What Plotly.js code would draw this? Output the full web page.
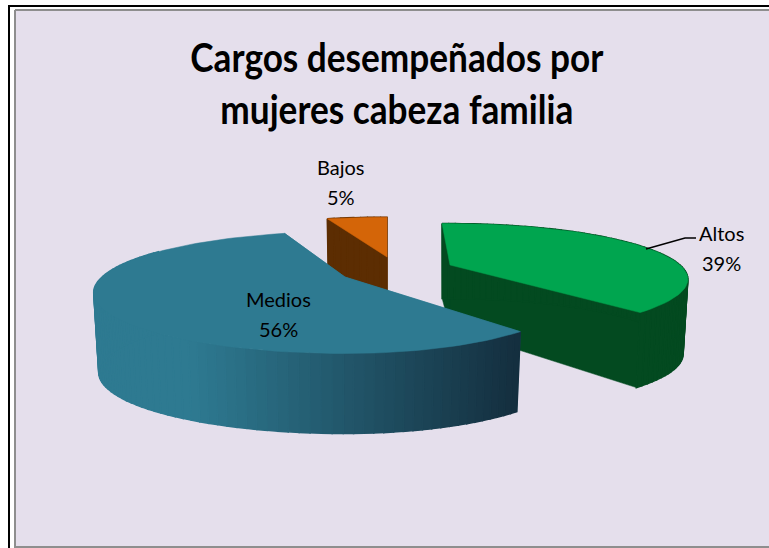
<!DOCTYPE html>
<html>
<head>
<meta charset="utf-8">
<script src="https://cdn.plot.ly/plotly-3.0.1.min.js"></script>
<style>
  html, body { margin: 0; padding: 0; background: #fff; }
  #chart { width: 769px; height: 548px; }
</style>
</head>
<body>
<div id="chart"></div>
<script>
// Values
const categorias = ['Altos', 'Medios', 'Bajos'];
const valores = [39, 56, 5];
const titulo = 'Cargos desempeñados por<br>mujeres cabeza familia';

// Colours per slice
const coloresTapa = ['#00A54F', '#2E7A91', '#D46508'];
const coloresLado = ['#034A20', '#2E7A91', '#5C2D02'];

// Fake 3D pie: each exploded slice gets its own centre and ellipse
const forma = [
    {cx: 450, cy: 265, aL: 230, aR: 230, b: 52, alto: 75, altoCentro: 63, rot: -2.5},
    {cx: 345, cy: 277, aL: 243, aR: 221, b: 57, alto: 80, altoCentro: 80, rot: 0},
    {cx: 387, cy: 257, aL: 240, aR: 240, b: 50, alto: 75, altoCentro: 75, rot: 0}
];
const perspectiva = 0.255;
const font = 'Lato, sans-serif';

// Slice angle -> page position, front of the pie is drawn larger
function proyectar(f, grados, abajo) {
    const t = (grados + f.rot) * Math.PI / 180;
    const u = Math.sin(t);
    const v = -Math.cos(t);
    const s = 1 / (1 - perspectiva * v);
    const a = u < 0 ? f.aL : f.aR;
    return [
        f.cx + a * u * s * (abajo ? 0.98 : 1),
        f.cy + f.b * v * s + (abajo ? f.alto : 0)
    ];
}

function poligono(puntos, color, ancho) {
    return {
        x: puntos.map(p => p[0]).concat([puntos[0][0]]),
        y: puntos.map(p => p[1]).concat([puntos[0][1]]),
        mode: 'lines',
        fill: 'toself',
        fillcolor: color,
        line: {color: color, width: ancho === undefined ? 0.5 : ancho},
        hoverinfo: 'skip',
        showlegend: false
    };
}

function arco(f, desde, hasta, abajo) {
    const pts = [];
    const pasos = Math.max(2, Math.round((hasta - desde) / 2));
    for (let i = 0; i <= pasos; i++) {
        pts.push(proyectar(f, desde + (hasta - desde) * i / pasos, abajo));
    }
    return pts;
}

// Side gradient of the big slice, dark on the right
function colorGradiente(x) {
    const claro = [46, 122, 145];
    const oscuro = [20, 46, 62];
    let r = (x - 190) / (520 - 190);
    r = Math.min(1, Math.max(0, r));
    const c = claro.map((n, i) => Math.round(n + (oscuro[i] - n) * r));
    return `rgb(${c[0]},${c[1]},${c[2]})`;
}

function trazasPorcion(i, desde, hasta) {
    const f = forma[i];
    const centroArriba = [f.cx, f.cy];
    const centroAbajo = [f.cx, f.cy + f.altoCentro];
    const trazas = [];

    // Cut faces
    [desde, hasta].forEach(g => {
        trazas.push(poligono([
            centroArriba, proyectar(f, g, false),
            proyectar(f, g, true), centroAbajo
        ], coloresLado[i]));
    });

    // Rim, one strip per arc step so it cannot self-overlap
    const esMedios = categorias[i] === 'Medios';
    const fin = esMedios ? Math.min(hasta, 300) : hasta;
    const arr = arco(f, desde, fin, false);
    const aba = arco(f, desde, fin, true);
    for (let k = 0; k < arr.length - 1; k++) {
        const color = esMedios
            ? colorGradiente((arr[k][0] + arr[k + 1][0]) / 2)
            : coloresLado[i];
        trazas.push(poligono([arr[k], arr[k + 1], aba[k + 1], aba[k]], color, 1.5));
    }

    // Top face
    trazas.push(poligono([centroArriba].concat(arco(f, desde, hasta, false)), coloresTapa[i]));
    return trazas;
}

const total = valores.reduce((a, b) => a + b, 0);
const angulos = [];
let acumulado = 0;
valores.forEach(v => {
    angulos.push([acumulado / total * 360, (acumulado + v) / total * 360]);
    acumulado += v;
});

// Paint order: back slices first
let data = [];
[2, 0, 1].forEach(i => {
    data = data.concat(trazasPorcion(i, angulos[i][0], angulos[i][1]));
});

// Label centres: [x, y of name, y of percent]
const posEtiquetas = [[721, 233, 263], [278, 299, 329], [341, 167, 197]];
const annotations = [];
categorias.forEach((c, i) => {
    const p = posEtiquetas[i];
    [[c, p[1]], [valores[i] + '%', p[2]]].forEach(par => {
        annotations.push({
            x: p[0], y: par[1], xref: 'x', yref: 'y',
            text: par[0], showarrow: false,
            font: {family: font, size: 20, color: '#000'}
        });
    });
});

const layout = {
    width: 769,
    height: 548,
    margin: {t: 0, r: 0, b: 0, l: 0},
    paper_bgcolor: '#fff',
    plot_bgcolor: 'rgba(0,0,0,0)',
    showlegend: false,
    hovermode: false,
    title: {
        text: titulo,
        font: {family: font, size: 40, color: '#000', weight: 'bold'},
        x: 0.516, xanchor: 'center',
        y: 0.868, yanchor: 'top'
    },
    xaxis: {range: [0, 769], visible: false, fixedrange: true},
    yaxis: {range: [548, 0], visible: false, fixedrange: true},
    annotations: annotations,
    shapes: [
        {type: 'rect', layer: 'below', xref: 'x', yref: 'y', x0: 16, y0: 11, x1: 769, y1: 546,
            fillcolor: '#E5DFEC', line: {width: 0}},
        {type: 'line', layer: 'below', xref: 'x', yref: 'y', x0: 15, y0: 10, x1: 769, y1: 10, line: {color: '#8E8E8E', width: 2}},
        {type: 'line', layer: 'below', xref: 'x', yref: 'y', x0: 15, y0: 10, x1: 15, y1: 548, line: {color: '#8E8E8E', width: 2}},
        {type: 'line', layer: 'below', xref: 'x', yref: 'y', x0: 15, y0: 547, x1: 769, y1: 547, line: {color: '#8E8E8E', width: 2}},
        {type: 'line', layer: 'below', xref: 'x', yref: 'y', x0: 8, y0: 6, x1: 769, y1: 6, line: {color: '#000', width: 2}},
        {type: 'line', layer: 'below', xref: 'x', yref: 'y', x0: 9, y0: 5, x1: 9, y1: 548, line: {color: '#000', width: 2}},
        // leader line for Altos
        {type: 'path', xref: 'x', yref: 'y', path: 'M646,249 L685,238 L696,238', line: {color: '#000', width: 1.5}}
    ]
};

Plotly.newPlot('chart', data, layout, {displayModeBar: false, staticPlot: true}).then(function(gd) {
    // Reference title is a condensed face, none installed, so narrow Lato in x
    const t = gd.querySelector('.gtitle');
    if (t) {
        t.setAttribute('transform', 'translate(397,0) scale(0.88,1) translate(-397,0)');
    }
});
</script>
</body>
</html>
